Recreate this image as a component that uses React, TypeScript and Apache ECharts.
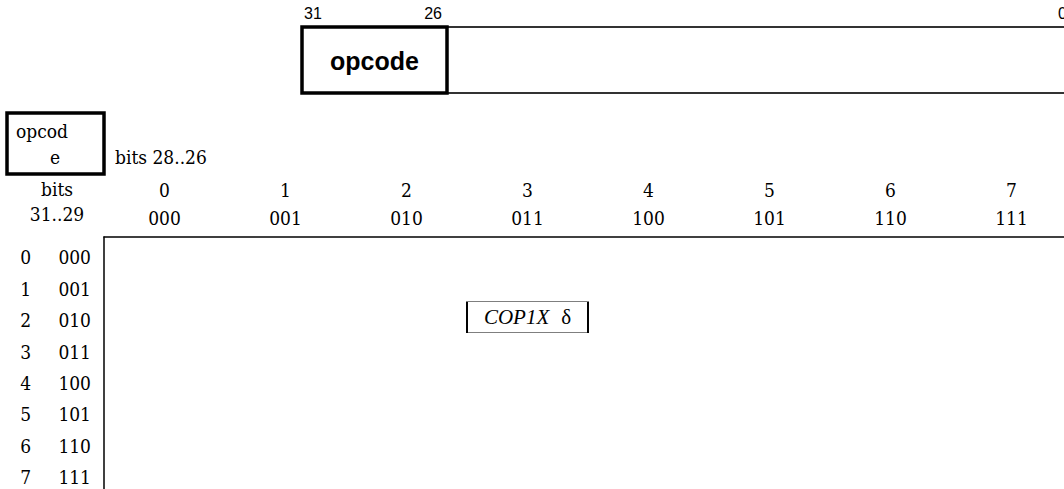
import React, { useEffect, useRef } from "react";
import * as echarts from "echarts";

// Column headers (bits 28..26)
const colDecimal = ["0", "1", "2", "3", "4", "5", "6", "7"];
const colBinary = ["000", "001", "010", "011", "100", "101", "110", "111"];
// Row headers (bits 31..29)
const rowDecimal = ["0", "1", "2", "3", "4", "5", "6", "7"];
const rowBinary = ["000", "001", "010", "011", "100", "101", "110", "111"];
const rowValues = [0, 1, 2, 3, 4, 5, 6, 7];
// Filled cells of the table
const cellCols = [3];
const cellRows = [2];
const cellNames = ["COP1X"];
const cellMarks = ["δ"];
// Instruction field diagram
const fieldBitLabels = ["31", "26", "0"];
const fieldName = "opcode";
const cornerTitle = ["opcod", "e"];
const colTitle = "bits 28..26";
const rowTitle = ["bits", "31..29"];

const SERIF = '"DejaVu Serif Condensed", "DejaVu Serif", serif';
const FS = 19;
const TIMES = '"Liberation Serif", serif';
const SANS = '"Liberation Sans", Arial, sans-serif';

export default function App() {
  const ref = useRef<HTMLDivElement>(null);

  useEffect(() => {
    if (!ref.current) return;
    const chart = echarts.init(ref.current, undefined, { renderer: "svg" });

    const rowPx = 31.4;
    const gridTop = 237;
    const yMin = -0.65;
    const yMax = 8;
    const gridHeight = (yMax - yMin) * rowPx;

    const text = (t: string, x: number, y: number, align: string, font: string) => ({
      type: "text",
      x,
      y,
      silent: true,
      style: {
        text: t,
        fill: "#000",
        font,
        align,
        textAlign: align,
        verticalAlign: "middle",
        textVerticalAlign: "middle",
      },
    });
    const serifFont = `${FS}px ${SERIF}`;

    const yAxisBase = {
      type: "value",
      inverse: true,
      min: yMin,
      max: yMax,
      splitLine: { show: false },
      axisTick: { show: false },
    };

    const option: any = {
      animation: false,
      backgroundColor: "#fff",
      grid: {
        left: 104,
        top: gridTop,
        width: 968,
        height: gridHeight,
        containLabel: false,
        outerBoundsMode: "none",
      },
      xAxis: {
        type: "category",
        position: "top",
        data: colBinary,
        boundaryGap: true,
        axisLine: { show: true, onZero: false, lineStyle: { color: "#000", width: 1.5 } },
        axisTick: { show: false },
        splitLine: { show: false },
        axisLabel: {
          interval: 0,
          margin: 5,
          formatter: (v: string, i: number) => `{d|${colDecimal[i]}}\n{b|${v}}`,
          rich: {
            d: { fontFamily: SERIF, fontSize: FS, color: "#000", lineHeight: 28, align: "center" },
            b: { fontFamily: SERIF, fontSize: FS, color: "#000", lineHeight: 28, align: "center" },
          },
        },
      },
      yAxis: [
        {
          ...yAxisBase,
          axisLine: { show: true, onZero: false, lineStyle: { color: "#000", width: 1.5 } },
          axisLabel: {
            customValues: rowValues,
            formatter: (v: number) => rowBinary[Math.round(v)] ?? "",
            margin: 13,
            fontFamily: SERIF,
            fontSize: FS,
            color: "#000",
          },
        },
        {
          ...yAxisBase,
          position: "left",
          axisLine: { show: false, onZero: false },
          axisLabel: {
            customValues: rowValues,
            formatter: (v: number) => rowDecimal[Math.round(v)] ?? "",
            margin: 73,
            fontFamily: SERIF,
            fontSize: FS,
            color: "#000",
          },
        },
      ],
      series: [
        {
          type: "scatter",
          xAxisIndex: 0,
          yAxisIndex: 0,
          silent: true,
          emphasis: { disabled: true },
          symbol: "rect",
          symbolSize: [121, 31],
          symbolOffset: [0, -3],
          itemStyle: { color: "#fff", borderColor: "#000", borderWidth: 1, opacity: 1 },
          data: cellCols.map((c, i) => ({
            value: [c, cellRows[i]],
            name: `${cellNames[i]} ${cellMarks[i]}`,
          })),
          label: {
            show: true,
            position: "inside",
            formatter: (p: any) => {
              const i = p.dataIndex;
              return `{i|${cellNames[i]}}{n|${cellMarks[i]}}`;
            },
            rich: {
              i: { fontFamily: TIMES, fontStyle: "italic", fontSize: 21, color: "#000" },
              n: { fontFamily: TIMES, fontSize: 21, color: "#000", padding: [0, 0, 0, 12] },
            },
          },
        },
      ],
      graphic: [
        // instruction word outline
        { type: "line", silent: true, shape: { x1: 302, y1: 27, x2: 1075, y2: 27 }, style: { stroke: "#333", lineWidth: 2 } },
        { type: "line", silent: true, shape: { x1: 302, y1: 93, x2: 1075, y2: 93 }, style: { stroke: "#333", lineWidth: 2 } },
        {
          type: "rect",
          silent: true,
          shape: { x: 302, y: 27, width: 145, height: 66 },
          style: { fill: "#fff", stroke: "#000", lineWidth: 3.5 },
        },
        text(fieldName, 374.5, 61, "center", `bold 25px ${SANS}`),
        text(fieldBitLabels[0], 304, 13, "left", `16px ${SANS}`),
        text(fieldBitLabels[1], 442, 13, "right", `16px ${SANS}`),
        text(fieldBitLabels[2], 1058, 13, "left", `16px ${SANS}`),
        // corner box
        {
          type: "rect",
          silent: true,
          shape: { x: 7, y: 113, width: 97, height: 61 },
          style: { fill: "#fff", stroke: "#000", lineWidth: 3.5 },
        },
        text(cornerTitle[0], 16, 131, "left", serifFont),
        text(cornerTitle[1], 55, 157, "center", serifFont),
        text(colTitle, 115, 157, "left", serifFont),
        text(rowTitle[0], 57, 189, "center", serifFont),
        text(rowTitle[1], 57, 214, "center", serifFont),
      ],
    };

    chart.setOption(option);
    return () => chart.dispose();
  }, []);

  return (
    <div
      style={{
        position: "absolute",
        left: 0,
        top: 0,
        width: 1064,
        height: 489,
        overflow: "hidden",
        background: "#fff",
      }}
    >
      <div ref={ref} style={{ width: 1090, height: 530 }} />
    </div>
  );
}
